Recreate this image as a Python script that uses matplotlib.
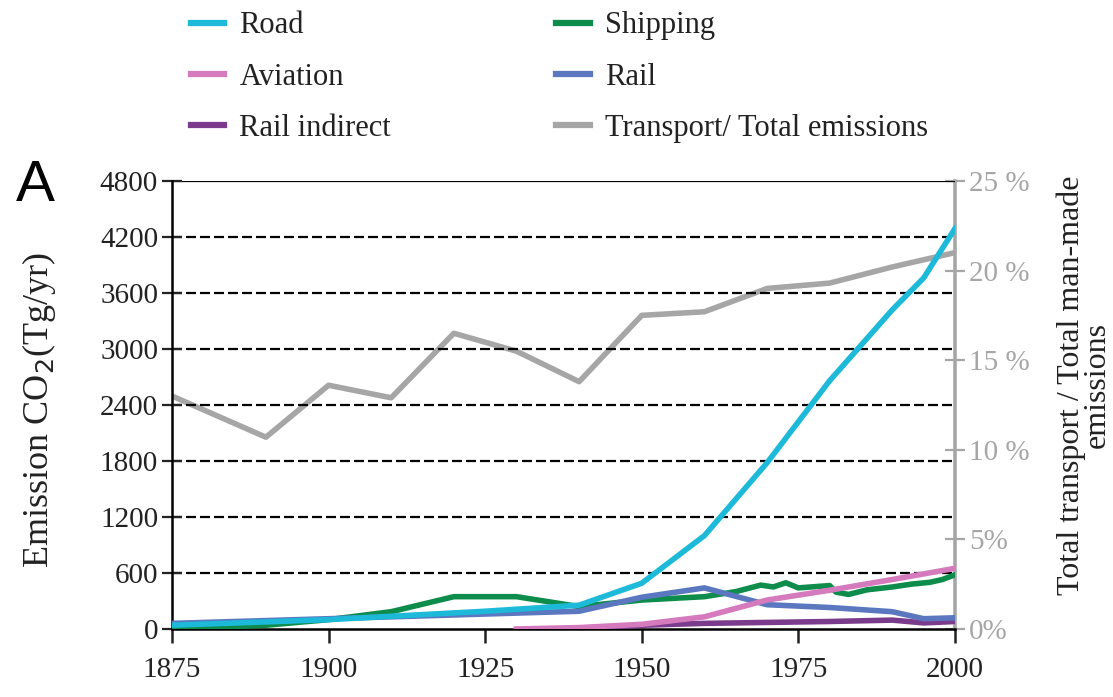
import matplotlib
matplotlib.use("Agg")
from matplotlib import pyplot as plt
from matplotlib.lines import Line2D

# data
road_years = [1875, 1900, 1925, 1940, 1950, 1960, 1970, 1980, 1990, 1995, 2000]
road = [40, 100, 190, 255, 490, 1000, 1780, 2660, 3420, 3760, 4290]

ship_years = [1875, 1890, 1900, 1910, 1920, 1930, 1940, 1950, 1960, 1965, 1969,
              1971, 1973, 1975, 1977, 1980, 1981, 1983, 1986, 1990, 1993, 1996,
              1998, 2000]
shipping = [0, 40, 100, 185, 346, 346, 240, 310, 346, 400, 470,
            450, 495, 440, 450, 465, 395, 370, 420, 450, 480, 500,
            530, 580]

avi_years = [1930, 1940, 1950, 1960, 1970, 1980, 1990, 2000]
aviation = [0, 15, 50, 130, 310, 415, 530, 650]

rail_years = [1875, 1900, 1925, 1940, 1950, 1960, 1970, 1980, 1990, 1995, 2000]
rail = [60, 110, 160, 190, 340, 440, 260, 230, 185, 110, 120]

ri_years = [1940, 1950, 1960, 1970, 1980, 1990, 1995, 2000]
rail_indirect = [0, 40, 60, 70, 80, 95, 65, 80]

share_years = [1875, 1890, 1900, 1910, 1920, 1930, 1940, 1950, 1960, 1970, 1980, 1990, 2000]
share = [13.0, 10.7, 13.6, 12.9, 16.5, 15.5, 13.8, 17.5, 17.7, 19.0, 19.3, 20.2, 21.0]

left_ticks = [0, 600, 1200, 1800, 2400, 3000, 3600, 4200, 4800]
right_ticks = [0, 5, 10, 15, 20, 25]
right_labels = ["0%", "5%", "10 %", "15 %", "20 %", "25 %"]
x_ticks = [1875, 1900, 1925, 1950, 1975, 2000]

c_road = "#1cb9d9"
c_ship = "#0d8c4c"
c_avi = "#d47abd"
c_rail = "#5b77bf"
c_ri = "#7b3b8c"
c_gray = "#a6a6a6"

plt.rcParams["font.family"] = ["Liberation Serif", "DejaVu Serif"]

fig = plt.figure(figsize=(11.13, 6.97), dpi=100)
ax = fig.add_axes([0.1545, 0.0976, 0.7035, 0.6428])
ax2 = ax.twinx()

lw = 4.0
ax2.plot(share_years, share, color=c_gray, lw=lw)
ax.plot(road_years, road, color=c_road, lw=lw, zorder=5)
ax.plot(ship_years, shipping, color=c_ship, lw=lw, zorder=4)
ax.plot(rail_years, rail, color=c_rail, lw=lw, zorder=4)
ax.plot(avi_years, aviation, color=c_avi, lw=lw, zorder=4)
ax.plot(ri_years, rail_indirect, color=c_ri, lw=lw, zorder=3)

ax.set_zorder(ax2.get_zorder() + 1)
ax.patch.set_visible(False)

for v in left_ticks[1:-1]:
    ax.axhline(v, color="black", lw=1.6, dashes=(4.5, 1.8), zorder=1)
ax.axhline(4800, color="black", lw=1.6, zorder=1)

ax.set_xlim(1875, 2000)
ax.set_ylim(0, 4800)
ax2.set_ylim(0, 25)
ax.set_xticks(x_ticks)
ax.set_yticks(left_ticks)
ax2.set_yticks(right_ticks)
ax2.set_yticklabels(right_labels)

ax.tick_params(axis="y", direction="inout", length=14, width=1.6,
               labelsize=21, colors="#222222", pad=3)
ax.tick_params(axis="x", direction="out", length=10, width=1.8,
               labelsize=21, colors="#222222", pad=10)
ax2.tick_params(axis="y", direction="inout", length=14, width=1.6,
                labelsize=21, colors=c_gray, pad=3)

for s in ["top", "right"]:
    ax.spines[s].set_visible(False)
ax.spines["left"].set_linewidth(1.8)
ax.spines["bottom"].set_linewidth(1.8)
for s in ["top", "left", "bottom"]:
    ax2.spines[s].set_visible(False)
ax2.spines["right"].set_color(c_gray)
ax2.spines["right"].set_linewidth(2.6)

fig.text(39 / 1113, 1 - 410 / 697, "Emission CO$_2$(Tg/yr)", rotation=90,
         ha="center", va="center", fontsize=26, color="#222222")
fig.text(1084 / 1113, 1 - 385 / 697, "Total transport / Total man-made\nemissions",
         rotation=90, ha="center", va="center", fontsize=23, color="#222222",
         linespacing=0.85, multialignment="center")
fig.text(35 / 1113, 1 - 186 / 697, "A", ha="center", va="center", fontsize=42,
         family=["Liberation Sans", "DejaVu Sans"])

handles = [Line2D([], [], color=c, lw=4.5) for c in [c_road, c_avi, c_ri, c_ship, c_rail, c_gray]]
labels = ["Road", "Aviation", "Rail indirect", "Shipping", "Rail", "Transport/ Total emissions"]
fig.legend(handles, labels, ncol=2, loc="upper left",
           bbox_to_anchor=(163 / 1113, 1.023), frameon=False, fontsize=22,
           handlelength=1.1, handletextpad=0.5, columnspacing=5.4,
           labelspacing=0.73, labelcolor="#222222")

fig.savefig("out.png", dpi=100)
